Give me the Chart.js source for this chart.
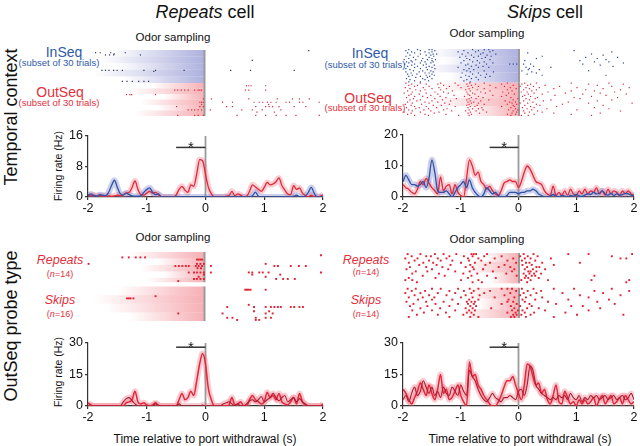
<!DOCTYPE html>
<html>
<head>
<meta charset="utf-8">
<script src="https://cdn.jsdelivr.net/npm/chart.js@4.4.1/dist/chart.umd.min.js"></script>
<style>
  html, body { margin: 0; padding: 0; background: #fff; }
  #fig { position: relative; width: 640px; height: 446px; overflow: hidden; font-family: 'Liberation Sans', Arial, sans-serif; color: #111; }
  #fig canvas { position: absolute; }
  .lbl { position: absolute; white-space: nowrap; line-height: 1; transform: translate(-50%, -50%); }
  .rot { transform: translate(-50%, -50%) rotate(-90deg); }
  .blue { color: #2f5aa8; }
  .red { color: #e3303c; }
</style>
</head>
<body>
<div id="fig">
  <div class="lbl" style="left:205px;top:12px;font-size:18px"><i>Repeats</i> cell</div>
  <div class="lbl" style="left:545px;top:12px;font-size:18px"><i>Skips</i> cell</div>
  <div class="lbl rot" style="left:11px;top:117px;font-size:18px">Temporal context</div>
  <div class="lbl rot" style="left:11px;top:326px;font-size:18px">OutSeq probe type</div>

  <div class="lbl" style="left:173px;top:38px;font-size:11.5px">Odor sampling</div>
  <div class="lbl" style="left:487px;top:34px;font-size:11.5px">Odor sampling</div>
  <div class="lbl" style="left:173px;top:238px;font-size:11.5px">Odor sampling</div>
  <div class="lbl" style="left:487px;top:240px;font-size:11.5px">Odor sampling</div>

  <div class="lbl blue" style="left:64px;top:52px;font-size:14px">InSeq</div>
  <div class="lbl blue" style="left:59px;top:63px;font-size:9.5px">(subset of 30 trials)</div>
  <div class="lbl red" style="left:60px;top:92px;font-size:14px">OutSeq</div>
  <div class="lbl red" style="left:59px;top:103px;font-size:9.5px">(subset of 30 trials)</div>
  <div class="lbl blue" style="left:370px;top:53px;font-size:14px">InSeq</div>
  <div class="lbl blue" style="left:365px;top:65px;font-size:9.5px">(subset of 30 trials)</div>
  <div class="lbl red" style="left:368px;top:98px;font-size:14px">OutSeq</div>
  <div class="lbl red" style="left:365px;top:108px;font-size:9.5px">(subset of 30 trials)</div>

  <div class="lbl red" style="left:60px;top:260px;font-size:12.5px"><i>Repeats</i></div>
  <div class="lbl red" style="left:60px;top:274px;font-size:9px">(<i>n</i>=14)</div>
  <div class="lbl red" style="left:60px;top:300px;font-size:12.5px"><i>Skips</i></div>
  <div class="lbl red" style="left:60px;top:314px;font-size:9px">(<i>n</i>=16)</div>
  <div class="lbl red" style="left:366px;top:260px;font-size:12.5px"><i>Repeats</i></div>
  <div class="lbl red" style="left:366px;top:272px;font-size:9px">(<i>n</i>=14)</div>
  <div class="lbl red" style="left:366px;top:300px;font-size:12.5px"><i>Skips</i></div>
  <div class="lbl red" style="left:366px;top:314px;font-size:9px">(<i>n</i>=14)</div>

  <div class="lbl rot" style="left:58px;top:166px;font-size:10.5px">Firing rate (Hz)</div>
  <div class="lbl rot" style="left:58px;top:372px;font-size:10.5px">Firing rate (Hz)</div>
  <div class="lbl" style="left:205px;top:439px;font-size:12px">Time relative to port withdrawal (s)</div>
  <div class="lbl" style="left:520px;top:439px;font-size:12px">Time relative to port withdrawal (s)</div>

  <canvas id="rasterTL" width="241" height="74" style="left:84px;top:46px"></canvas>
  <canvas id="rasterTR" width="240" height="75" style="left:399px;top:45px"></canvas>
  <canvas id="rasterBL" width="241" height="77" style="left:84px;top:248px"></canvas>
  <canvas id="rasterBR" width="240" height="73" style="left:399px;top:249px"></canvas>
  <canvas id="rateTL" width="281" height="95" style="left:48px;top:124px"></canvas>
  <canvas id="rateTR" width="277" height="96" style="left:363px;top:123px"></canvas>
  <canvas id="rateBL" width="281" height="97" style="left:48px;top:331px"></canvas>
  <canvas id="rateBR" width="277" height="97" style="left:363px;top:331px"></canvas>
</div>
<script>
'use strict';

// time bins of the firing-rate curves (s, relative to port withdrawal)
const timeBins = [
  -2, -1.95, -1.9, -1.85, -1.8, -1.75, -1.7, -1.65, -1.6, -1.55,
  -1.5, -1.45, -1.4, -1.35, -1.3, -1.25, -1.2, -1.15, -1.1, -1.05,
  -1, -0.95, -0.9, -0.85, -0.8, -0.75, -0.7, -0.65, -0.6, -0.55,
  -0.5, -0.45, -0.4, -0.35, -0.3, -0.25, -0.2, -0.15, -0.1, -0.05,
  0, 0.05, 0.1, 0.15, 0.2, 0.25, 0.3, 0.35, 0.4, 0.45,
  0.5, 0.55, 0.6, 0.65, 0.7, 0.75, 0.8, 0.85, 0.9, 0.95,
  1, 1.05, 1.1, 1.15, 1.2, 1.25, 1.3, 1.35, 1.4, 1.45,
  1.5, 1.55, 1.6, 1.65, 1.7, 1.75, 1.8, 1.85, 1.9, 1.95,
  2,
];
const timeTicks = [-2, -1, 0, 1, 2];
const sigWindow = [-0.5, 0];

// Repeats cell, temporal context (Hz)
const rateTLInSeq = [
  0.3, 0.8, 0.3, 0.2, 0.6, 0.5, 0.3, 1.2, 3.0, 4.4,
  2.5, 0.8, 0.5, 1.0, 0.6, 0.3, 0.2, 0.2, 0.3, 1.2,
  2.0, 2.4, 1.2, 0.6, 0.8, 0, 0, 0, 0, 0,
  0, 0, 0, 0, 0, 0, 0, 0, 0, 0,
  0, 0, 0, 0, 0, 0, 0, 0, 0, 0,
  0, 0, 0, 0, 0, 0, 0.3, 1.3, 0.2, 0,
  0, 0, 0, 0, 0, 0, 0, 0, 0, 0,
  0.2, 0.5, 0, 0, 0.2, 1.2, 2.5, 1.0, 0, 0,
  0,
];
const rateTLOutSeq = [
  0.6, 0.3, 0.5, 0.2, 0.4, 0.3, 0.2, 0.3, 0.2, 0.3,
  0.5, 0.3, 0.6, 1.0, 1.2, 2.5, 4.2, 2.0, 0.6, 0.5,
  1.0, 1.5, 1.0, 1.2, 0.5, 0, 0, 0, 0, 0,
  0.5, 2.0, 2.8, 1.8, 1.2, 3.2, 2.8, 6.0, 9.8, 9.5,
  6.0, 2.5, 0.8, 0, 0, 0, 0, 0.2, 0.4, 1.5,
  0.3, 0.8, 0.5, 0, 0.2, 1.5, 3.2, 2.6, 2.0, 1.5,
  2.5, 3.8, 3.2, 3.4, 4.0, 5.0, 3.0, 1.8, 0.8, 0.6,
  3.0, 2.0, 2.4, 1.0, 0.4, 0, 0.5, 0, 0, 0.2,
  0.6,
];

// Skips cell, temporal context (Hz)
const rateTRInSeq = [
  5, 7, 5.5, 4, 4, 3.5, 4, 5, 3, 6,
  12, 8, 2, 1.5, 1.5, 2, 1, 0, 1.5, 3,
  4, 5, 3, 5.5, 3, 1.5, 0.5, 0, 1, 3,
  2, 1, 1.5, 0.5, 0, 0, 0.5, 1.5, 1.5, 1.5,
  1, 1.5, 1.5, 2, 2, 2.5, 2, 1, 0.5, 0,
  0, 0.3, 0.8, 0.3, 0, 0.5, 0.3, 0, 0.5, 0.3,
  0.8, 0.4, 0.2, 0.6, 1.0, 0.8, 1.5, 1.0, 1.2, 2.0,
  1.0, 0.6, 1.2, 0.5, 1.0, 0.6, 0.8, 1.2, 1.0, 0.6,
  0.5,
];
const rateTROutSeq = [
  4, 3, 2.5, 1.5, 1, 2.5, 5, 4, 6, 4.5,
  3, 2, 1, 6.5, 2, 3.5, 4, 1, 4, 1.5,
  0.5, 0, 6, 12, 10, 7, 8, 5, 4, 2.5,
  3.5, 2, 1, 0.5, 2, 4.5, 5, 5.5, 5, 5,
  3, 5, 8, 10, 9, 7, 5, 4.5, 4, 2,
  1, 0.5, 3.5, 0.5, 1.5, 0.5, 2, 0.5, 2.5, 1,
  0.5, 2, 1, 2.5, 1, 2, 1.5, 3, 1, 2,
  0.5, 2.5, 1, 2, 1.5, 0.5, 2, 1, 2, 1,
  0.5,
];

// Repeats cell, OutSeq probe type (Hz)
const rateBLRepeats = [
  1.5, 0.5, 0, 0, 0, 0, 0, 0, 0, 0,
  0, 0, 0, 1.5, 2, 3, 7, 2, 1, 1.5,
  0.5, 0, 0.5, 1.5, 0, 0, 0, 0, 0, 0,
  0, 3, 6, 3, 4, 7, 5, 12, 20, 25,
  20, 8, 3, 0, 0, 0, 0, 0, 0.5, 4,
  0.5, 1, 2, 0, 0, 3, 5, 3, 2, 1,
  2, 6.5, 4, 5, 3, 6, 2, 1, 0.5, 2,
  4, 1, 6, 2, 0.5, 0, 0, 0, 0, 0,
  1,
];
const rateBLSkips = [
  0, 0, 0, 0, 0, 0, 0, 0, 0, 0,
  0, 0, 2, 3.5, 4, 2.5, 1, 0, 0, 0,
  0, 0, 0, 1, 0.5, 0, 0, 0, 0, 0,
  0, 1, 0, 0, 0, 0, 0, 0, 0, 0.5,
  0, 0, 0, 0, 0, 0, 1, 1.5, 2, 1,
  0, 1, 0, 0, 1, 2.5, 3, 2, 3, 4.5,
  2, 3, 4, 6, 4, 2.5, 4, 5, 2, 3,
  4, 2, 3.5, 2, 1, 0, 0, 0, 0, 0,
  0,
];

// Skips cell, OutSeq probe type (Hz)
const rateBRRepeats = [
  8, 6, 3, 1, 4, 7, 11, 8, 5, 10,
  6, 3, 8, 15, 6, 8, 3, 4, 7, 10,
  5, 2, 0, 21, 14, 15, 10, 8, 5, 3,
  1, 0, 0, 2, 5, 9, 12, 12, 14, 10,
  6, 3, 10, 20, 19, 14, 10, 11, 6, 8,
  3, 1, 5, 10, 2, 1, 7, 4, 1, 2,
  0, 3, 1, 3, 1, 2, 4, 0, 3, 5,
  1, 3, 5, 1, 2, 4, 1, 5, 3, 1,
  2,
];
const rateBRSkips = [
  3, 5, 2, 6, 9, 5, 7, 12, 9, 6,
  9, 5, 7, 4, 9, 6, 5, 9, 7, 5,
  10, 7, 5, 17, 14, 12, 8, 5, 3, 2,
  4, 6, 4, 3, 2, 4, 4, 5, 4, 3,
  7, 8, 5, 10, 19, 17, 10, 8, 6, 5,
  4, 3, 4, 3, 5, 4, 5, 3, 6, 4,
  3, 5, 2, 4, 3, 5, 4, 5, 3, 4,
  5, 3, 4, 5, 3, 4, 5, 3, 4, 6,
  3,
];

// y-axis top and significance bar height per panel (Hz)
const yMaxTop = [16, 20];
const yMaxBottom = [30, 30];
const sigLevels = [13, 16, 28, 28];

// spike times (s) per trial row
const spikesTLInSeq = [
  [1.79], [], [-1.87, -1.79, -1.61, -1.36], [-1.55], [-1.7, -1.63, -1.56, -1.1],
  [], [], [], [], [0.82],
  [], [], [], [], [],
  [], [], [], [-1.76, -1.7, -1.64, -1.56, -1.5, -1.41, -1.04, -0.84, -0.35, 0.45, 0.79, 1.54], [-0.87],
  [], [], [], [], [],
  [], [], [], [-1.41, -1.33, -1.24, -1.13, -1.04, -0.96], [],
];
const spikesTLOutSeq = [
  [], [], [0.72, 0.76, 0.8, 1.05], [], [],
  [], [-0.51, -0.46, -0.4, -0.34, -0.28, -0.17, -0.11, -0.08, -0.05, 0.7, 0.76, 1.05], [], [], [],
  [-1.34, -1.28, -1.25, -0.84], [], [], [], [-0.02, 0.12, 0.76, 1.25, 1.51, 1.63, 1.8],
  [], [], [-0.08, -0.05, -0.02, 0.31, 0.48, 0.85, 0.94, 1.0, 1.08, 1.14, 1.23, 1.4, 1.46, 1.63, 1.69, 1.97], [], [-0.05, 1.1],
  [], [-0.48, -0.08, -0.02, 0.38, 0.48, 0.88, 1.05, 1.11, 1.17, 1.28, 1.54, 1.74], [], [], [-0.28, -0.22, -0.17, -0.11, -0.05, 0.1, 0.64, 0.82, 0.99, 1.31],
  [], [0.9, 1.2], [], [], [-0.46, -0.17, -0.11, -0.02, 0.56, 0.88, 1.05, 1.23, 1.4, 1.57, 1.97],
];
const spikesTRInSeq = [
  [-1.9, -1.75, -1.55, -1.5, -0.8, -0.6, -0.52],
  [-1.95, -1.7, -1.45, -0.95, -0.7, -0.45, 0.95],
  [-1.85, -1.62, -1.5, -1.05, -0.75, -0.5, 1.6],
  [-1.92, -1.8, -1.55, -0.88, -0.62, 0.15],
  [-1.7, -1.48, -1.42, -0.98, -0.66, -0.4, 1.25],
  [-1.88, -1.6, -1.52, -0.82, -0.55, 1.45],
  [-1.95, -1.74, -1.47, -0.92, -0.7, -0.48, 0.4],
  [-1.82, -1.55, -1.02, -0.78, -0.58, 1.15, 1.7],
  [-1.9, -1.66, -1.5, -0.9, -0.64, 0.3, 1.35],
  [-1.98, -1.78, -1.58, -1.44, -0.85, -0.5, 1.5],
  [-1.86, -1.68, -1.5, -0.95, -0.72, 0.1, 1.05],
  [-1.94, -1.84, -1.62, -1.48, -0.8, -0.6, 1.3, 1.55],
  [-1.9, -1.7, -1.52, -1.0, -0.68, -0.45, 1.8],
  [-1.97, -1.8, -1.6, -0.88, -0.56, -0.16, -0.1, -0.04, 0.08, 0.2, 1.1],
  [-1.85, -1.65, -1.46, -0.92, -0.74, 1.4],
  [-1.92, -1.75, -1.55, -0.82, -0.62, 0.25, 1.62],
  [-1.8, -1.6, -1.5, -1.05, -0.7, -0.52, 0.12, 0.55],
  [-1.95, -1.7, -1.45, -0.86, 0.18],
  [-1.88, -1.58, -0.95, -0.78, 0.16, 0.35],
  [-1.82, -1.66, -1.52, -0.9, -0.6, 0.05, 1.2],
  [-1.95, -1.72, -1.48, -0.84, -0.44, 0.22],
  [-1.86, -1.62, -1.55, -0.98, -0.7, 0.3],
  [-1.92, -1.76, -1.5, -0.8, -0.56, 0.14],
  [-1.84, -1.6, -1.46, -0.92, -0.66, 0.4, 1.5],
  [-1.9, -1.7, -1.54, -0.86, -0.5],
  [-1.78, -1.58, -1.0, -0.74, -0.58],
  [-1.94, -1.66, -1.5, -0.82],
  [-1.88, -1.62, -0.9, -0.7],
  [-1.8, -1.56, -0.95],
  [-1.9, -1.7, -0.84],
];
const spikesTROutSeq = [
  [-1.95, -1.7, -1.35, -1.1, -0.85, -0.6, -0.2, 0.1, 0.3, 0.9, 1.55],
  [-1.85, -1.6, -1.4, -0.9, -0.75, -0.3, 0.05, 0.2, 1.2, 1.8],
  [-1.9, -1.75, -1.3, -1.05, -0.82, -0.5, -0.1, 0.15, 0.45, 1.35],
  [-1.8, -1.55, -1.2, -0.88, -0.7, -0.25, 0.02, 0.25, 0.7, 1.6],
  [-1.96, -1.65, -1.38, -1.0, -0.8, -0.4, -0.15, 0.12, 0.35, 1.0, 1.9],
  [-1.88, -1.5, -1.25, -0.86, -0.6, -0.05, 0.18, 0.6, 1.45],
  [-1.78, -1.62, -1.35, -0.92, -0.72, -0.2, 0.08, 0.3, 1.15, 1.75],
  [-1.92, -1.7, -1.15, -0.84, -0.5, -0.12, 0.22, 0.9, 1.3],
  [-1.84, -1.45, -1.3, -0.9, -0.66, -0.28, 0.04, 0.14, 0.5, 1.65],
  [-1.98, -1.6, -1.22, -0.8, -0.58, -0.18, 0.26, 0.8, 1.4],
  [-1.86, -1.72, -1.4, -0.88, -0.76, -0.08, 0.16, 0.4, 1.1, 1.85],
  [-1.9, -1.52, -1.12, -0.85, -0.45, -0.22, 0.1, 0.62, 1.5],
  [-1.8, -1.66, -1.36, -0.94, -0.7, -0.3, 0.06, 0.2, 1.25],
  [-1.94, -1.58, -1.26, -0.82, -0.62, -0.14, 0.32, 0.95, 1.7],
  [-1.82, -1.45, -1.08, -0.86, -0.74, -0.02, 0.12, 0.28, 1.05],
  [-1.88, -1.7, -1.32, -0.9, -0.52, -0.1, 0.18, 0.55, 1.6],
  [-1.76, -1.5, -1.18, -0.84, -0.66, -0.24, 0.08, 0.42, 1.35],
  [-1.92, -1.62, -1.4, -0.88, -0.78, -0.16, -0.06, 0.24, 0.85],
  [-1.84, -1.55, -1.28, -0.82, -0.7, -0.12, 0.02, 0.15, 1.2, 1.95],
  [-1.96, -1.68, -1.2, -0.86, -0.6, -0.2, -0.04, 0.3, 0.75],
  [-1.86, -1.48, -1.34, -0.9, -0.72, -0.1, 0.1, 0.36, 1.45],
  [-1.8, -1.6, -1.1, -0.84, -0.76, -0.3, -0.08, 0.2, 0.65],
  [-1.94, -1.72, -1.42, -0.88, -0.64, -0.14, 0.06, 0.26, 1.3],
  [-1.78, -1.56, -1.24, -0.8, -0.7, -0.06, 0.14, 0.48, 1.55],
  [-1.9, -1.64, -1.3, -0.86, -0.62, -0.18, -0.02, 0.22, 1.0],
  [-1.84, -1.52, -1.16, -0.92, -0.74, -0.1, 0.08, 0.32, 1.75],
  [-1.98, -1.7, -1.38, -0.84, -0.56, -0.04, 0.18, 0.4],
  [-1.86, -1.46, -0.88, -0.68, -0.12, 0.1, 0.6, 1.4],
  [-1.92, -1.62, -1.26, -0.82, -0.2, -0.06, 0.26, 0.9],
  [-1.8, -1.56, -1.04, -0.86, -0.14, 0.04, 0.16, 1.25],
];
const spikesBLRepeats = [
  [], [2.0], [-1.41, -1.3, -1.18, -1.1, -1.02], [-0.13, -0.1, -0.07, -0.04], [],
  [-1.99, -0.13, -0.07, -0.01, 1.05],
  [-0.5, -0.44, -0.38, -0.32, -0.27, -0.15, -0.1, -0.04, 0.11, 1.2, 1.26, 1.48, 1.62, 1.74],
  [-0.12, -0.06], [],
  [-0.27, -0.18, -0.13, -0.07, -0.01, 0.11, 0.76, 0.82, 0.94, 1.0, 1.1, 2.0],
  [-0.01, 0.82, 1.3], [-0.1, 1.05],
  [-0.18, -0.13, -0.07, -0.01, 1.23, 1.35, 1.43, 1.55],
  [-0.45],
];
const spikesBLSkips = [
  [], [0.7, 0.73, 0.76, 0.79, 1.05], [], [], [-0.84],
  [-1.33, -1.3, -1.27, -1.22], [], [], [0.76],
  [0.39, 0.85, 1.05, 1.14, 1.2, 1.26, 1.31, 1.48, 1.54, 1.63, 1.69],
  [], [0.85, 1.11], [-0.45, 0.31, 1.05, 1.17], [],
  [0.39, 0.48, 0.88, 1.05, 1.14], [0.56, 0.88, 0.94],
];
const spikesBRRepeats = [
  [-1.92, -1.7, -1.45, -1.3, -1.08, -0.82, -0.78, -0.74, -0.55, 0.08, 0.25, 0.85, 1.2, 1.95],
  [-1.85, -1.6, -1.52, -1.2, -0.95, -0.8, -0.6, -0.3, 0.02, 0.15, 0.32, 1.6],
  [-1.96, -1.75, -1.4, -1.25, -0.88, -0.7, -0.42, -0.1, 0.1, 0.2, 0.55, 1.75, 1.85],
  [-1.8, -1.55, -1.35, -1.15, -0.86, -0.65, -0.2, 0.05, 0.28],
  [-1.9, -1.65, -1.48, -1.0, -0.76, -0.5, -0.05, 0.12, 0.18, 0.4, 1.05],
  [-1.72, -1.42, -1.18, -0.84, -0.58, -0.25, 0.06, 0.22, 0.6],
  [-1.88, -1.6, -1.32, -0.92, -0.8, -0.35, -0.15, 0.14, 0.3, 0.35],
  [-1.94, -1.5, -1.22, -0.78, -0.62, -0.08, 0.1, 0.24, 0.45],
  [-1.78, -1.58, -1.1, -0.85, -0.45, -0.12, 0.16, 0.2, 0.3],
  [-1.84, -1.38, -0.96, -0.72, -0.22, 0.08, 0.18, 0.26, 0.38],
  [-1.66, -1.28, -0.82, -0.55, -0.04, 0.12, 0.22, 0.28, 1.3],
  [-1.9, -1.44, -0.88, -0.4, 0.1, 0.16, 0.34],
  [-1.96, -1.84, -1.0, -0.7, 0.04, 0.2, 0.5, 1.25, 1.9],
  [-1.76, -0.8, -0.64, 0.14, 1.85],
];
const spikesBRSkips = [
  [-1.92, -1.78, -1.5, -1.35, -1.05, -0.85, -0.7, -0.3, -0.2, -0.12, 0.05, 0.25, 0.6, 0.95, 1.6],
  [-1.85, -1.62, -1.2, -0.95, -0.78, -0.5, -0.05, 0.15, 0.38, 1.3, 1.9],
  [-1.96, -1.7, -1.4, -1.1, -0.82, -0.6, -0.15, 0.08, 0.3, 0.75, 1.45],
  [-1.8, -1.55, -1.25, -0.92, -0.68, -0.25, 0.02, 0.2, 1.05, 1.75],
  [-1.9, -1.66, -1.46, -1.0, -0.8, -0.42, -0.08, 0.12, 0.4, 1.2],
  [-1.74, -1.5, -1.15, -0.86, -0.7, -0.18, 0.06, 0.28, 0.85, 1.55],
  [-1.94, -1.6, -1.3, -0.9, -0.82, -0.76, -0.2, -0.1, 0.1, 0.5, 1.35],
  [-1.82, -1.44, -1.05, -0.88, -0.78, -0.3, -0.04, 0.18, 0.64, 1.65],
  [-1.88, -1.58, -1.2, -0.84, -0.74, -0.14, 0.02, 0.22, 0.9, 1.1],
  [-1.7, -1.36, -0.92, -0.8, -0.48, -0.08, 0.14, 0.34, 1.4],
  [-1.84, -1.5, -1.1, -0.86, -0.76, -0.12, -0.02, 0.06, 0.45, 1.2],
  [-1.64, -1.26, -0.9, -0.82, -0.2, -0.06, 0.1, 0.26, 0.8],
  [-1.76, -1.4, -0.96, -0.78, -0.1, -0.04, 0.04, 0.2, 1.0, 1.8],
  [-1.9, -1.2, -0.84, -0.7, -0.14, -0.08, 0.12, 0.6],
];

// odor-onset shading strips: [first row, last row, onset time (s)]
const shadeTLInSeq = [[0, 5, -1.6], [6, 11, -1.8], [12, 17, -1.5], [18, 23, -1.9], [24, 29, -1.4]];
const shadeTLOutSeq = [[30, 34, -0.9], [35, 39, -1.3], [40, 44, -0.7], [45, 49, -1.1], [50, 54, -0.8], [55, 59, -1.2]];
const shadeTRInSeq = [[0, 6, -1.5], [7, 13, -1.3], [14, 20, -1.6], [21, 29, -1.2]];
const shadeTROutSeq = [[30, 36, -1.4], [37, 43, -1.1], [44, 50, -1.5], [51, 59, -0.9]];
const shadeBLRepeats = [[0, 2, -1.3], [3, 5, -0.8], [6, 8, -1.1], [9, 11, -0.7], [12, 13, -1.0]];
const shadeBLSkips = [[16, 19, -1.5], [20, 23, -1.9], [24, 27, -1.7], [28, 31, -1.3]];
const shadeBRRepeats = [[0, 3, -0.6], [4, 8, -0.9], [9, 13, -0.5]];
const shadeBRSkips = [[16, 20, -0.9], [21, 25, -0.7], [26, 29, -1.0]];

const BLUE = '#2f52a4', RED = '#e3263a', DARKRED = '#a81c32';
const BLUE_RGB = '130,135,205', RED_RGB = '238,110,120';
const FONT = "'Liberation Sans', Arial, sans-serif";

const odorShade = {
  id: 'odorShade',
  beforeDatasetsDraw(chart, args, opts) {
    const { ctx, scales: { x, y } } = chart;
    const x0 = x.getPixelForValue(0);
    ctx.save();
    opts.strips.forEach(([r0, r1, start, rgb]) => {
      const xs = x.getPixelForValue(start);
      const g = ctx.createLinearGradient(xs, 0, x0, 0);
      g.addColorStop(0, `rgba(${rgb},0)`);
      g.addColorStop(1, `rgba(${rgb},${rgb === BLUE_RGB ? 0.65 : 0.55})`);
      ctx.fillStyle = g;
      const yt = y.getPixelForValue(r0 - 0.5), yb = y.getPixelForValue(r1 + 0.5);
      ctx.fillRect(xs, yt, x0 - xs, yb - yt);
    });
    ctx.strokeStyle = '#9a9a9a';
    ctx.lineWidth = 2;
    opts.groups.forEach(([r0, r1]) => {
      ctx.beginPath();
      ctx.moveTo(x0, y.getPixelForValue(r0 - 0.5));
      ctx.lineTo(x0, y.getPixelForValue(r1 + 0.5));
      ctx.stroke();
    });
    ctx.restore();
  },
};

const rateMarks = {
  id: 'rateMarks',
  beforeDatasetsDraw(chart) {
    const { ctx, chartArea, scales: { x } } = chart;
    const x0 = x.getPixelForValue(0);
    ctx.save();
    ctx.strokeStyle = '#9a9a9a';
    ctx.lineWidth = 1.8;
    ctx.beginPath();
    ctx.moveTo(x0, chartArea.top);
    ctx.lineTo(x0, chartArea.bottom);
    ctx.stroke();
    ctx.restore();
  },
  afterDatasetsDraw(chart, args, opts) {
    const { ctx, scales: { x, y } } = chart;
    ctx.save();
    ctx.fillStyle = '#222';
    ctx.font = `15px ${FONT}`;
    ctx.textAlign = 'center';
    ctx.textBaseline = 'alphabetic';
    const xm = x.getPixelForValue((sigWindow[0] + sigWindow[1]) / 2);
    ctx.fillText('*', xm, y.getPixelForValue(opts.sig) + 5);
    ctx.restore();
  },
};

function rowsToPoints(rows, offset) {
  const pts = [];
  rows.forEach((spikes, i) => spikes.forEach(t => pts.push({ x: t, y: offset + i })));
  return pts;
}

function rasterChart(id, groups, nRows, strips, size) {
  new Chart(document.getElementById(id), {
    type: 'scatter',
    data: {
      datasets: groups.map(g => ({
        data: rowsToPoints(g.rows, g.offset),
        pointStyle: 'rect',
        pointRadius: size,
        pointBorderWidth: 0,
        backgroundColor: g.color,
        clip: false,
      })),
    },
    options: {
      responsive: false,
      animation: false,
      events: [],
      layout: { padding: { left: 4, right: 4, top: 0, bottom: 0 } },
      scales: {
        x: { type: 'linear', min: -2, max: 2, display: false },
        y: { type: 'linear', min: -0.5, max: nRows - 0.5, reverse: true, display: false },
      },
      plugins: {
        legend: { display: false },
        tooltip: { enabled: false },
        odorShade: {
          strips,
          groups: groups.map(g => [g.offset, g.offset + g.rows.length - 1]),
        },
      },
    },
    plugins: [odorShade],
  });
}

function rateChart(id, series, yMax, sig) {
  const datasets = [];
  series.forEach(s => {
    const pts = s.values.map((v, i) => ({ x: timeBins[i], y: v }));
    datasets.push({
      data: pts, borderColor: s.color, borderWidth: s.width,
      pointRadius: 0, cubicInterpolationMode: 'monotone', order: 1,
    });
    datasets.push({
      data: pts, borderColor: s.band, borderWidth: 6,
      pointRadius: 0, cubicInterpolationMode: 'monotone', order: 3, clip: 0,
    });
  });
  datasets.push({
    data: sigWindow.map(t => ({ x: t, y: sig })),
    borderColor: '#333', borderWidth: 1.5, pointRadius: 0, order: 0,
  });
  const axisGrid = { drawOnChartArea: false, drawTicks: true, tickLength: 3, color: '#333', lineWidth: 1.2 };
  new Chart(document.getElementById(id), {
    type: 'line',
    data: { datasets },
    options: {
      responsive: false,
      animation: false,
      events: [],
      layout: { padding: { top: 12, right: 6, left: 0, bottom: 0 } },
      scales: {
        x: {
          type: 'linear', min: -2, max: 2,
          afterBuildTicks: s => { s.ticks = timeTicks.map(v => ({ value: v })); },
          afterFit: s => { s.height = 22; },
          ticks: { color: '#111', font: { family: FONT, size: 12.5 }, padding: 1, maxRotation: 0 },
          grid: axisGrid,
          border: { display: true, color: '#333', width: 1.2 },
        },
        y: {
          min: 0, max: yMax,
          afterBuildTicks: s => { s.ticks = [0, yMax / 2, yMax].map(v => ({ value: v })); },
          afterFit: s => { s.width = 40; },
          ticks: { color: '#111', font: { family: FONT, size: 12.5 }, padding: 2 },
          grid: axisGrid,
          border: { display: true, color: '#333', width: 1.2 },
        },
      },
      plugins: {
        legend: { display: false },
        tooltip: { enabled: false },
        rateMarks: { sig },
      },
    },
    plugins: [rateMarks],
  });
}

const tag = (list, rgb) => list.map(s => [...s, rgb]);

rasterChart('rasterTL', [
  { rows: spikesTLInSeq, offset: 0, color: '#2c3358' },
  { rows: spikesTLOutSeq, offset: 30, color: '#d8283a' },
], 60, [...tag(shadeTLInSeq, BLUE_RGB), ...tag(shadeTLOutSeq, RED_RGB)], 0.85);

rasterChart('rasterTR', [
  { rows: spikesTRInSeq, offset: 0, color: '#27479a' },
  { rows: spikesTROutSeq, offset: 30, color: '#e0283c' },
], 60, [...tag(shadeTRInSeq, BLUE_RGB), ...tag(shadeTROutSeq, RED_RGB)], 0.85);

rasterChart('rasterBL', [
  { rows: spikesBLRepeats, offset: 0, color: '#e01f30' },
  { rows: spikesBLSkips, offset: 16, color: '#e01f30' },
], 32, [...tag(shadeBLRepeats, RED_RGB), ...tag(shadeBLSkips, RED_RGB)], 1.35);

rasterChart('rasterBR', [
  { rows: spikesBRRepeats, offset: 0, color: '#e01f30' },
  { rows: spikesBRSkips, offset: 16, color: '#e01f30' },
], 30, [...tag(shadeBRRepeats, RED_RGB), ...tag(shadeBRSkips, RED_RGB)], 1.35);

const blueBand = 'rgba(110,120,200,0.35)', redBand = 'rgba(240,100,115,0.32)';

rateChart('rateTL', [
  { values: rateTLInSeq, color: BLUE, band: blueBand, width: 1.3 },
  { values: rateTLOutSeq, color: RED, band: redBand, width: 1.3 },
], yMaxTop[0], sigLevels[0]);

rateChart('rateTR', [
  { values: rateTRInSeq, color: BLUE, band: blueBand, width: 1.3 },
  { values: rateTROutSeq, color: RED, band: redBand, width: 1.3 },
], yMaxTop[1], sigLevels[1]);

rateChart('rateBL', [
  { values: rateBLSkips, color: DARKRED, band: redBand, width: 1.1 },
  { values: rateBLRepeats, color: RED, band: redBand, width: 1.5 },
], yMaxBottom[0], sigLevels[2]);

rateChart('rateBR', [
  { values: rateBRSkips, color: DARKRED, band: redBand, width: 1.1 },
  { values: rateBRRepeats, color: RED, band: redBand, width: 1.5 },
], yMaxBottom[1], sigLevels[3]);
</script>
</body>
</html>
